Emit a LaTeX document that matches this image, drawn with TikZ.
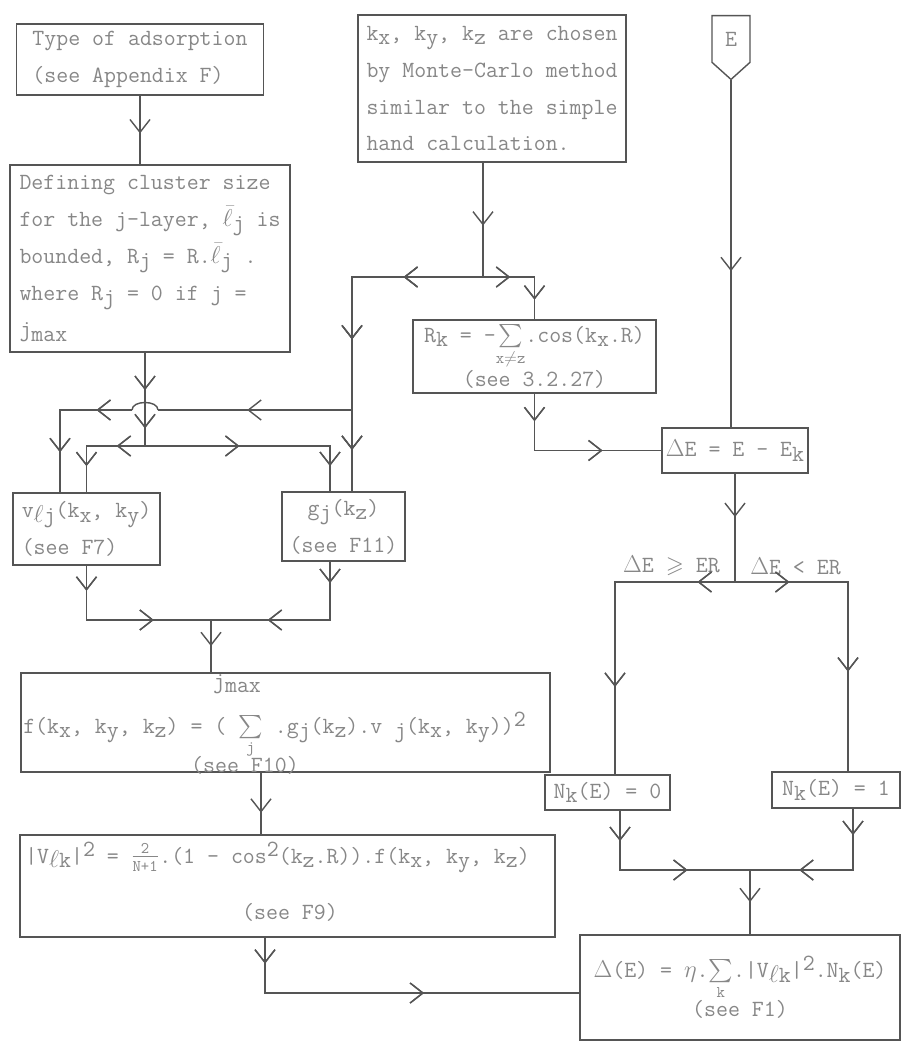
\documentclass[tikz,border=0pt]{standalone}
\usepackage{amsmath,amssymb}
\usetikzlibrary{arrows.meta,positioning,calc,decorations.markings,shapes.symbols}
\definecolor{inkline}{RGB}{85,85,85}
\definecolor{inktext}{RGB}{135,135,135}
\newcommand{\tw}{\fontsize{16.5}{26.3}\selectfont\ttfamily}
\newcommand{\tsub}[1]{\raisebox{-0.45ex}{#1}}
\newcommand{\tsup}[1]{\raisebox{0.7ex}{#1}}

\begin{document}
\begin{tikzpicture}[x=0.025cm, y=-0.025cm,
    box/.style={draw=inkline,line width=1pt,text=inktext,font=\tw,align=left,inner sep=0pt},
    cbox/.style={box,align=center},
    sig/.style={draw=inkline,line width=1pt,text=inktext,font=\tw,shape=signal,signal to=south,
      signal pointer angle=96,minimum width=0.95cm,minimum height=1.3cm,inner sep=0pt},
    txt/.style={text=inktext,font=\tw,inner sep=0pt},
    ln/.style={draw=inkline,line width=1pt},
    ar/.style={postaction={decorate},decoration={markings,
      mark=at position #1 with {\arrow[inkline]{Straight Barb[length=0.32cm,width=0.5cm,line width=1pt]}}}}
  ]
    \fill[white] (0,0) rectangle (906,1041);
    \useasboundingbox (0,0) rectangle (906,1041);

    % left column
    \node[box,minimum width=6.175cm,minimum height=1.775cm] (A) at (140,59.5)
      {Type of adsorption\\(see Appendix F)};
    \node[box,minimum width=7.0cm,minimum height=4.675cm] (B) at (150,258.5)
      {Defining cluster size\\for the j-layer, $\bar{\ell}$\tsub{j} is\\bounded, R\tsub{j} = R.$\bar{\ell}$\tsub{j} .\\where R\tsub{j} = 0 if j =\\j\tsub{max}};
    \node[box,minimum width=3.675cm,minimum height=1.8cm] (vl) at (86.5,529)
      {v\tsub{$\ell$j}(k\tsub{x}, k\tsub{y})\\(see F7)};
    \node[cbox,minimum width=3.075cm,minimum height=1.725cm] (gj) at (343.5,526.5)
      {g\tsub{j}(k\tsub{z})\\(see F11)};

    % middle column
    \node[box,minimum width=6.7cm,minimum height=3.675cm] (C) at (492,88.5)
      {k\tsub{x}, k\tsub{y}, k\tsub{z} are chosen\\by Monte-Carlo method\\similar to the simple\\hand calculation.};
    \node[cbox,minimum width=6.075cm,minimum height=1.825cm] (Rk) at (534.5,356.5)
      {R\tsub{k} = -$\sum\limits_{\texttt{x}\neq\texttt{z}}$.cos(k\tsub{x}.R)\\(see 3.2.27)};

    % right column
    \node[sig] (E) at (731,39) {E};
    \node[cbox,minimum width=3.65cm,minimum height=1.125cm] (dE) at (735,450.5)
      {$\Delta$E = E - E\tsub{k}};
    \node[txt,anchor=east] (ge) at (720,566) {$\Delta$E $\geqslant$ ER};
    \node[txt,anchor=west] (lt) at (750,566) {$\Delta$E < ER};
    \node[cbox,minimum width=3.125cm,minimum height=0.875cm] (N0) at (607.5,792.5)
      {N\tsub{k}(E) = 0};
    \node[cbox,minimum width=3.2cm,minimum height=0.9cm] (N1) at (836,790)
      {N\tsub{k}(E) = 1};

    % wide boxes
    \node[box,minimum width=13.225cm,minimum height=2.475cm] (fb) at (285.5,722.5) {};
    \node[txt,anchor=base west] (fmain) at (23,733)
      {f(k\tsub{x}, k\tsub{y}, k\tsub{z}) = ( $\sum\limits_{\texttt{j}}$ .g\tsub{j}(k\tsub{z}).v~\tsub{j}(k\tsub{x}, k\tsub{y}))\tsup{2}};
    \node[txt] (fmax) at (237,684) {j\tsub{max}};
    \node[txt] (fsee) at (245,765) {(see F10)};
    \node[box,minimum width=13.375cm,minimum height=2.55cm] (Vb) at (287.5,886) {};
    \node[txt,anchor=base west] (vmain) at (25,863)
      {|V\tsub{$\ell$k}|\tsup{2} = $\frac{\text{2}}{\text{N+1}}$.(1 - cos\tsup{2}(k\tsub{z}.R)).f(k\tsub{x}, k\tsub{y}, k\tsub{z})};
    \node[txt] (vsee) at (290,912) {(see F9)};
    \node[cbox,minimum width=8cm,minimum height=2.625cm] (D) at (740,987.5)
      {$\Delta$(E) = $\eta$.$\sum\limits_{\texttt{k}}$.|V\tsub{$\ell$k}|\tsup{2}.N\tsub{k}(E)\\(see F1)};

    % junctions
    \coordinate (jB) at (145,446);
    \coordinate (hop) at (145,410);
    \coordinate (hopR) at (158,410);
    \coordinate (hopL) at (132,410);
    \coordinate (jC) at (483,277);
    \coordinate (gin1) at ($(gj.north)+(-13.5,0)$);
    \coordinate (gin2) at ($(gj.north)+(8.5,0)$);
    \coordinate (br) at (gin2 |- hop);
    \coordinate (vin1) at ($(vl.north)+(-26.5,0)$);
    \coordinate (gout) at ($(gj.south)+(-13.5,0)$);
    \coordinate (jV) at (211,620);
    \coordinate (fout) at ($(fb.south)+(-24.5,0)$);
    \coordinate (vbout) at ($(Vb.south)+(-22.5,0)$);
    \coordinate (dwin) at ($(D.west)+(0,5.5)$);
    \coordinate (jE) at (735,582);
    \coordinate (n0in) at ($(N0.north)+(7.5,0)$);
    \coordinate (n1in) at ($(N1.north)+(12,0)$);
    \coordinate (n0out) at ($(N0.south)+(12.5,0)$);
    \coordinate (n1out) at ($(N1.south)+(17,0)$);
    \coordinate (jN) at (750,870);

    % connectors, left
    \draw[ln,ar=0.55] (A.south) -- (A.south |- B.north);
    \draw[ln,ar=0.40,ar=0.81] (B.south -| jB) -- (jB);
    \draw[ln,ar=0.27,ar=0.75] (jB) -| (vl.north);
    \draw[ln,ar=0.41,ar=0.89] (jB) -| (gin1);
    \draw[ln,ar=0.14,ar=0.68] (vl.south) |- (jV);
    \draw[ln,ar=0.12,ar=0.68] (gout) |- (jV);
    \draw[ln,ar=0.5] (jV) -- (jV |- fb.north);
    \draw[ln,ar=0.65] (fout) -- (fout |- Vb.north);
    \draw[ln,ar=0.07,ar=0.58] (vbout) |- (dwin);

    % connectors, middle
    \draw[ln,ar=0.55] (C.south -| jC) -- (jC);
    \draw[ln,ar=0.29,ar=0.79] (jC) -| (Rk.north);
    \draw[ln,ar=0.23,ar=0.56,ar=0.88] (jC) -| (gin2);
    \draw[ln,ar=0.54] (br) -- (hopR);
    \draw[ln] (hopR) .. controls ($(hopR)+(0,-10)$) and ($(hopL)+(0,-10)$) .. (hopL);
    \draw[ln,ar=0.23,ar=0.74] (hopL) -| (vin1);
    \draw[ln,ar=0.15,ar=0.68] (Rk.south) |- (dE.west);

    % connectors, right
    \draw[ln,ar=0.55] (E.south) -- (E.south |- dE.north);
    \draw[ln,ar=0.40] (dE.south) -- (jE);
    \draw[ln,ar=0.12,ar=0.72] (jE) -| (n0in);
    \draw[ln,ar=0.18,ar=0.67] (jE) -| (n1in);
    \draw[ln,ar=0.16,ar=0.67] (n0out) |- (jN);
    \draw[ln,ar=0.16,ar=0.70] (n1out) |- (jN);
    \draw[ln,ar=0.5] (jN) -- (jN |- D.north);
  \end{tikzpicture}
\end{document}
